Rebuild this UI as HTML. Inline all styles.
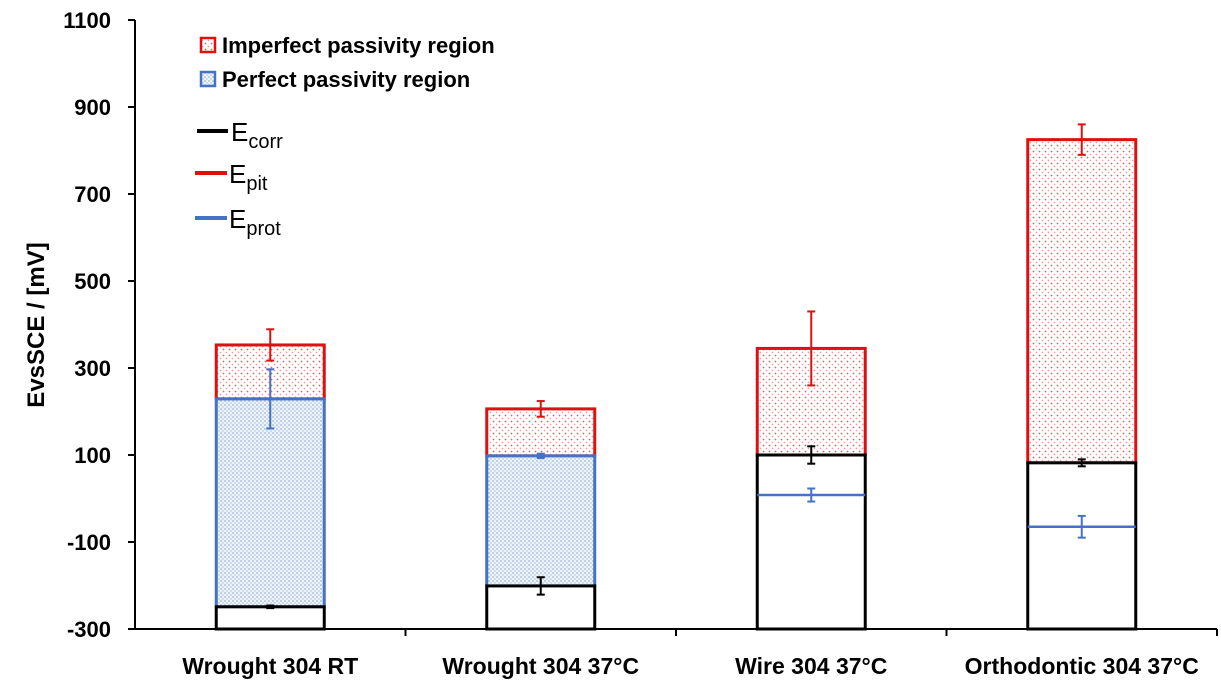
<!DOCTYPE html>
<html><head><meta charset="utf-8"><style>
body{margin:0;background:#fff;}
svg{display:block;font-family:"Liberation Sans",Arial,sans-serif;}
</style></head><body>
<svg id="chart" width="1221" height="687" viewBox="0 0 1221 687">
<defs>
<pattern id="redDots" width="6" height="6" patternUnits="userSpaceOnUse">
<rect width="6" height="6" fill="#fff"/><circle cx="1.5" cy="1.5" r="0.9" fill="#e06060"/><circle cx="4.5" cy="4.5" r="0.9" fill="#e8a0a0"/>
</pattern>
<pattern id="blueDots" width="4" height="4" patternUnits="userSpaceOnUse">
<rect width="4" height="4" fill="#eef3fa"/><circle cx="1" cy="1" r="0.9" fill="#9db8dc"/><circle cx="3" cy="3" r="0.9" fill="#b9cce6"/>
</pattern>
</defs>
<g id="plot"></g>
</svg>
<script>
const categories=["Wrought 304 RT","Wrought 304 37°C","Wire 304 37°C","Orthodontic 304 37°C"];
const ecorr=[-249,-201,100,82];
const ecorrErr=[3,20,20,8];
const eprot=[229,98,8,-65];
const eprotErr=[68,5,15,25];
const epit=[353,206,345,825];
const epitErr=[36,18,85,35];
const yTicks=[-300,-100,100,300,500,700,900,1100];

const NS="http://www.w3.org/2000/svg";
const g=document.getElementById('plot');
const x0=135,x1=1217,yTop=20,yBot=629,vMin=-300,vMax=1100;
const y=v=>yBot-(v-vMin)/(vMax-vMin)*(yBot-yTop);
const band=(x1-x0)/categories.length;
const xc=i=>x0+band*(i+0.5);
const bw=108;
function mk(tag,attrs,parent){const e=document.createElementNS(NS,tag);for(const k in attrs)e.setAttribute(k,attrs[k]);(parent||g).appendChild(e);return e;}

let e=mk('line',{x1:x0,y1:yTop,x2:x0,y2:yBot,stroke:'#000','stroke-width':2});


yTicks.forEach(t=>{
  let tl=mk('line',{x1:x0-7,y1:y(t),x2:x0,y2:y(t),stroke:'#000','stroke-width':2});
  
  
  let tx=mk('text',{x:x0-24,y:y(t)+8,'text-anchor':'end','font-size':22,'font-weight':'bold'});
  tx.textContent=t;
  
  
});
let yt=mk('text',{x:0,y:0,transform:'translate(44,325) rotate(-90)','text-anchor':'middle','font-size':24,'font-weight':'bold'});
yt.textContent='EvsSCE / [mV]';



function errBar(cx,v,err,color){
  const w=4;
  let gg=mk('g',{stroke:color,'stroke-width':2});
  
  
  mk('line',{x1:cx,y1:y(v+err),x2:cx,y2:y(v-err)},gg);
  mk('line',{x1:cx-w,y1:y(v+err),x2:cx+w,y2:y(v+err)},gg);
  mk('line',{x1:cx-w,y1:y(v-err),x2:cx+w,y2:y(v-err)},gg);
}

categories.forEach((c,i)=>{
  const cx=xc(i),l=cx-bw/2;
  const bg=mk('g',{});
  
  
  const lowTop=Math.max(ecorr[i],eprot[i]);
  let r=mk('rect',{x:l,y:y(epit[i]),width:bw,height:y(lowTop)-y(epit[i]),fill:'url(#redDots)',stroke:'#e01010','stroke-width':3},bg);
  
  
  if(eprot[i]>ecorr[i]){
    let b=mk('rect',{x:l,y:y(eprot[i]),width:bw,height:y(ecorr[i])-y(eprot[i]),fill:'url(#blueDots)',stroke:'#4472c4','stroke-width':3},bg);
    
    
  }
  let w=mk('rect',{x:l,y:y(ecorr[i]),width:bw,height:yBot-y(ecorr[i]),fill:'#fff',stroke:'#000','stroke-width':3},bg);
  
  
  if(eprot[i]<=ecorr[i]){
    let pl=mk('line',{x1:l,y1:y(eprot[i]),x2:l+bw,y2:y(eprot[i]),stroke:'#4472c4','stroke-width':2.5},bg);
    
    
  }
  errBar(cx,epit[i],epitErr[i],'#e01010');
  errBar(cx,eprot[i],eprotErr[i],'#4472c4');
  errBar(cx,ecorr[i],ecorrErr[i],'#000');
  let lb=mk('text',{x:cx,y:674,'text-anchor':'middle','font-size':23,'font-weight':'bold'});
  lb.textContent=c;
  
  
});
e=mk('line',{x1:x0,y1:yBot,x2:x1,y2:yBot,stroke:'#000','stroke-width':2});


for(let k=1;k<=categories.length;k++){
  let t=mk('line',{x1:x0+band*k,y1:yBot,x2:x0+band*k,y2:yBot+7,stroke:'#000','stroke-width':2});
  
  
}
</script>
<svg style="position:absolute;left:0;top:0" width="1221" height="687">
<g font-family="Liberation Sans, Arial, sans-serif">
<rect x="201" y="38" width="14" height="14" fill="url(#redDots)" stroke="#e01010" stroke-width="2.5"/>
<text x="222" y="53" font-size="22" font-weight="bold">Imperfect passivity region</text>
<rect x="201" y="72" width="14" height="14" fill="url(#blueDots)" stroke="#4472c4" stroke-width="2.5"/>
<text x="222" y="87" font-size="22" font-weight="bold">Perfect passivity region</text>
<line x1="197" y1="131" x2="228" y2="131" stroke="#000" stroke-width="4"/>
<text x="231" y="141" font-size="26">E<tspan font-size="20" dy="7">corr</tspan></text>
<line x1="195" y1="173" x2="227" y2="173" stroke="#e01010" stroke-width="4"/>
<text x="229" y="183" font-size="26">E<tspan font-size="20" dy="7">pit</tspan></text>
<line x1="195" y1="218" x2="227" y2="218" stroke="#4472c4" stroke-width="4"/>
<text x="229" y="228" font-size="26">E<tspan font-size="20" dy="7">prot</tspan></text>
</g>
</svg>
</body></html>
